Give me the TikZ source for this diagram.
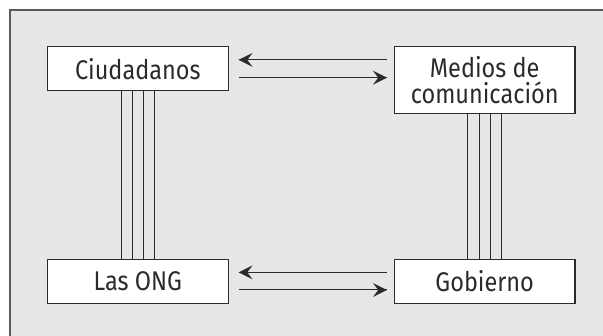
\documentclass[tikz,border=0pt]{standalone}
\usepackage{fontspec}
\setmainfont[FakeStretch=0.87]{Fira Sans}
\usetikzlibrary{calc,decorations.markings}
\tikzset{->/.style = {decoration={markings, mark=at position 1 with {\arrow[scale=3]{stealth}}}, postaction={decorate}}}
\tikzset{<-/.style = {decoration={markings, mark=at position 0 with {\arrowreversed[scale=3]{stealth}}}, postaction={decorate}}}
\definecolor{panel}{HTML}{E6E7E9}
\definecolor{frameline}{HTML}{5A5A5A}
\definecolor{ink}{HTML}{2B2B2B}

\begin{document}
\begin{tikzpicture}[x=1pt,y=-1pt,
    actor/.style={draw=ink,line width=1.1pt,fill=white,minimum width=180.5pt,
        minimum height=44pt,inner sep=0pt,align=center,
        font={\fontsize{27}{26}\selectfont},text=ink},
    link/.style={draw=ink,line width=1pt},
    ]
    \useasboundingbox (0,0) rectangle (603,336);
    % Panel
    \fill[panel] (10,10) rectangle (603,336);
    \draw[frameline,line width=2pt] (603,10) -- (10,10) -- (10,336);

    % Actors
    \node[actor] (ciud) at (137.8,68.7) {Ciudadanos};
    \node[actor,minimum height=66.7pt] (medios) at (484.7,80) {Medios de\\comunicación};
    \node[actor] (ong) at (137.8,281.2) {Las ONG};
    \node[actor] (gob) at (484.7,281.2) {Gobierno};

    % Vertical bundles
    \foreach \dx in {-16.8,-5.6,5.6,16.8} {
        \draw[link] ($(ciud.south)+(\dx,0)$) -- ($(ong.north)+(\dx,0)$);
        \draw[link] ($(medios.south)+(\dx,0)$) -- ($(gob.north)+(\dx,0)$);
    }

    % Horizontal arrows
    \draw[link,<-] ($(ciud.east)+(10,-8.8)$) -- ($(ciud.east -| medios.west)+(-7,-8.8)$);
    \draw[link,->] ($(ciud.east)+(10,9)$) -- ($(ciud.east -| medios.west)+(-7,9)$);
    \draw[link,<-] ($(ong.east)+(10,-8.8)$) -- ($(gob.west)+(-7,-8.8)$);
    \draw[link,->] ($(ong.east)+(10,8.8)$) -- ($(gob.west)+(-7,8.8)$);

\end{tikzpicture}
\end{document}
